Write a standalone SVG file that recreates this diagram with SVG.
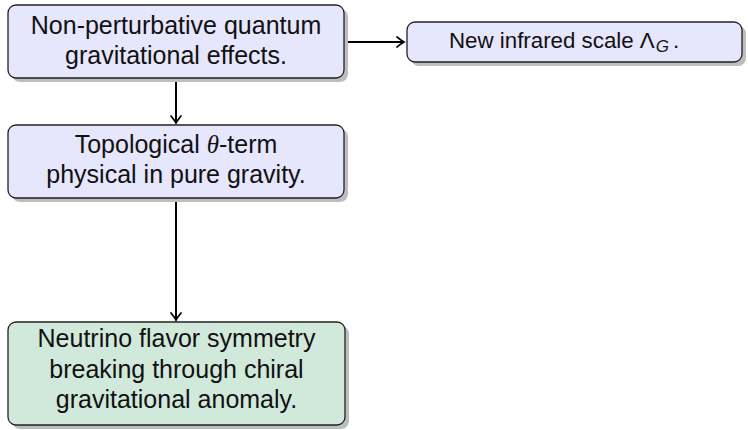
<svg xmlns="http://www.w3.org/2000/svg" width="748" height="430" viewBox="0 0 748 430">
<defs>
<style>
.shadow{fill:#bdbdbd;}
.box{stroke:#222;stroke-width:1.3;}
.blue{fill:#e6e6fc;}
.green{fill:#d1e9da;}
.t{font-family:"Liberation Sans",Arial,sans-serif;font-size:25px;fill:#111;text-anchor:middle;}
.t2{font-family:"Liberation Sans",Arial,sans-serif;font-size:22.3px;fill:#111;}
.conn{stroke:#000;stroke-width:2;fill:none;}
</style>
<marker id="arr" viewBox="-10 -6 12 12" refX="0" refY="0" markerWidth="12" markerHeight="12" markerUnits="userSpaceOnUse" orient="auto">
<path d="M-7,-5 Q-2,-1 0,0 Q-2,1 -7,5" fill="none" stroke="#000" stroke-width="1.7" stroke-linecap="round"/>
</marker>
</defs>
<rect width="748" height="430" fill="#fff"/>
<g id="connectors">
<line class="conn" x1="344" y1="42" x2="404" y2="42" marker-end="url(#arr)"/>
<line class="conn" x1="176" y1="78" x2="176" y2="123" marker-end="url(#arr)"/>
<line class="conn" x1="176" y1="198" x2="176" y2="320" marker-end="url(#arr)"/>
</g>
<g id="node1">
<rect class="shadow" x="12" y="9" width="336" height="73" rx="8"/>
<rect class="box blue" x="8" y="5" width="336" height="73" rx="8"/>
<text class="t" x="176" y="34">Non-perturbative quantum</text>
<text class="t" x="176" y="64">gravitational effects.</text>
</g>
<g id="node2">
<rect class="shadow" x="411" y="26" width="335" height="40" rx="8"/>
<rect class="box blue" x="407" y="22" width="335" height="40" rx="8"/>
<text class="t2" x="449" y="48">New infrared scale Λ<tspan font-style="italic" font-size="17" dy="4" dx="1">G</tspan><tspan dy="-4" dx="4">.</tspan></text>
</g>
<g id="node3">
<rect class="shadow" x="12" y="129" width="336" height="73" rx="8"/>
<rect class="box blue" x="8" y="125" width="336" height="73" rx="8"/>
<text class="t" x="176" y="153">Topological <tspan font-family="'Liberation Serif',serif" font-style="italic">θ</tspan>-term</text>
<text class="t" x="176" y="183">physical in pure gravity.</text>
</g>
<g id="node4">
<rect class="shadow" x="12" y="326" width="337" height="103" rx="8"/>
<rect class="box green" x="8" y="322" width="337" height="103" rx="8"/>
<text class="t" x="176.5" y="347">Neutrino flavor symmetry</text>
<text class="t" x="176.5" y="378">breaking through chiral</text>
<text class="t" x="176.5" y="408">gravitational anomaly.</text>
</g>
</svg>
